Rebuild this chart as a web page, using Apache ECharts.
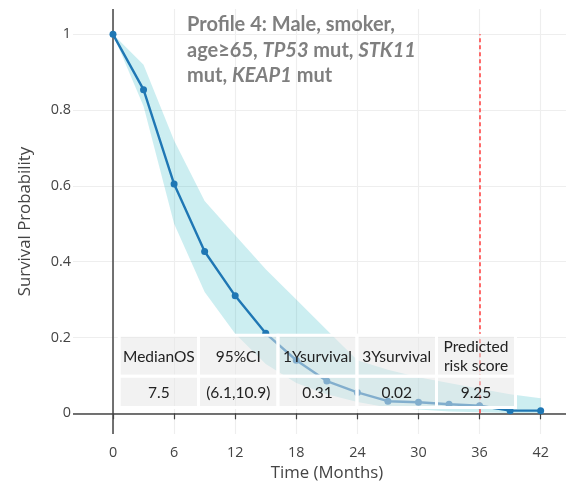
<!DOCTYPE html>
<html>
<head>
<meta charset="utf-8">
<script src="https://cdn.jsdelivr.net/npm/echarts@6/dist/echarts.min.js"></script>
<style>
  html, body { margin: 0; padding: 0; background: #ffffff; }
  #chart { width: 566px; height: 482px; }
</style>
</head>
<body>
<div id="chart"></div>
<script>
// Predicted survival curve with 95% confidence band (months 0-42, every 3 months)
const months = [0, 3, 6, 9, 12, 15, 18, 21, 24, 27, 30, 33, 36, 39, 42];
const survival = [1, 0.854, 0.605, 0.427, 0.31, 0.211, 0.14, 0.085, 0.055, 0.032, 0.029, 0.024, 0.02, 0.007, 0.007];
const ciLower = [1, 0.81, 0.50, 0.32, 0.21, 0.13, 0.08, 0.05, 0.03, 0.015, 0.01, 0.005, 0.003, 0.001, 0.001];
const ciUpper = [1, 0.92, 0.72, 0.56, 0.47, 0.38, 0.30, 0.22, 0.14, 0.115, 0.095, 0.08, 0.065, 0.05, 0.04];

// Axis ticks
const xTicks = [0, 6, 12, 18, 24, 30, 36, 42];
const yTicks = [0, 0.2, 0.4, 0.6, 0.8, 1];

// Reference time marked by the red dashed line
const markTime = 36;

// Summary table
const tableHeader = ['MedianOS', '95%CI', '1Ysurvival', '3Ysurvival', 'Predicted\nrisk score'];
const tableValues = ['7.5', '(6.1,10.9)', '0.31', '0.02', '9.25'];

const chart = echarts.init(document.getElementById('chart'), null, { renderer: 'canvas' });

const bandData = months.map((m, i) => [m, ciLower[i], ciUpper[i]]);
const survPts = months.map((m, i) => [m, survival[i]]);

// Confidence band: one polygon, upper edge left-to-right then lower edge back
function renderBand(params, api) {
  if (params.dataIndex !== 0) return;
  const pts = [];
  for (let i = 0; i < bandData.length; i++) pts.push(api.coord([bandData[i][0], bandData[i][2]]));
  for (let i = bandData.length - 1; i >= 0; i--) pts.push(api.coord([bandData[i][0], bandData[i][1]]));
  return {
    type: 'polygon',
    shape: { points: pts },
    style: { fill: 'rgba(0,170,187,0.2)', stroke: 'none' },
    silent: true
  };
}

// Table layout (pixels)
const colEdges = [119.2, 198.5, 278, 357, 436.5, 515.5];
const rowEdges = [335.2, 376.3, 407.5];
const cellFill = 'rgba(229,229,229,0.5)';
const tableFont = 'Lato';

const tableGraphics = [];
[tableHeader, tableValues].forEach((row, r) => {
  row.forEach((txt, c) => {
    const x0 = colEdges[c], x1 = colEdges[c + 1];
    const y0 = rowEdges[r], y1 = rowEdges[r + 1];
    tableGraphics.push({
      type: 'rect', z: 100, silent: true,
      shape: { x: x0, y: y0, width: x1 - x0, height: y1 - y0 },
      style: { fill: cellFill, stroke: '#ffffff', lineWidth: 3 }
    });
    tableGraphics.push({
      type: 'text', z: 101, silent: true,
      x: (x0 + x1) / 2, y: (y0 + y1) / 2 + 1,
      style: {
        text: txt, fill: '#222222', fontFamily: tableFont, fontSize: 15.5,
        lineHeight: 19, align: 'center', verticalAlign: 'middle'
      }
    });
  });
});

const titleRich = {
  b: { fontFamily: 'Lato', fontSize: 20, fontWeight: 'bold', color: '#7f7f7f', lineHeight: 25.5 },
  i: { fontFamily: 'Lato', fontSize: 20, fontWeight: 'bold', fontStyle: 'italic', color: '#7f7f7f', lineHeight: 25.5 }
};

const axisFont = 'Open Sans';

chart.setOption({
  backgroundColor: '#ffffff',
  animation: false,
  title: {
    left: 187, top: 12, padding: 0,
    text: '{b|Profile 4: Male, smoker,}\n{b|age≥65, }{i|TP53}{b| mut, }{i|STK11}\n{b|mut, }{i|KEAP1}{b| mut}',
    textStyle: { rich: titleRich }
  },
  grid: { left: 73, top: 9, width: 508, height: 425, containLabel: false, outerBoundsMode: 'none' },
  xAxis: {
    type: 'value',
    min: -3.928, max: 45.96,
    position: 'bottom', offset: 4,
    axisLine: { show: false },
    axisTick: { show: true, inside: false, length: 6, lineStyle: { color: '#444', width: 1.2 }, customValues: xTicks },
    axisLabel: { customValues: xTicks, color: '#444', fontFamily: axisFont, fontSize: 14.4, margin: 8 },
    splitLine: { show: true, lineStyle: { color: '#eeeeee', width: 1.2 } },
    name: 'Time (Months)', nameLocation: 'middle', nameGap: 27,
    nameTextStyle: { color: '#444', fontFamily: axisFont, fontSize: 16.8 }
  },
  yAxis: {
    type: 'value',
    min: -0.0546, max: 1.0668,
    axisLine: { show: false },
    axisTick: { show: false, customValues: yTicks },
    axisLabel: { customValues: yTicks, color: '#444', fontFamily: axisFont, fontSize: 14.4, margin: 2 },
    splitLine: { show: true, lineStyle: { color: '#eeeeee', width: 1.2 } },
    name: 'Survival Probability', nameLocation: 'middle', nameGap: 39, nameRotate: 90,
    nameTextStyle: { color: '#444', fontFamily: axisFont, fontSize: 16.8 }
  },
  series: [
    {
      name: '95% CI', type: 'custom', data: bandData, z: 1,
      renderItem: renderBand, silent: true
    },
    {
      // zero lines of both axes
      name: 'zero lines', type: 'line', data: survPts, z: 2,
      symbol: 'none', silent: true, lineStyle: { opacity: 0 },
      markLine: {
        silent: true, symbol: 'none', label: { show: false }, animation: false,
        lineStyle: { color: '#444', width: 1.5, type: 'solid' },
        data: [{ xAxis: 0 }, { yAxis: 0 }]
      }
    },
    {
      // reference time line
      name: 'reference time', type: 'line', data: survPts, z: 2,
      symbol: 'none', silent: true, lineStyle: { opacity: 0 },
      markLine: {
        silent: true, symbol: 'none', label: { show: false }, animation: false,
        lineStyle: { color: '#ff3b3b', width: 1.5, type: [4, 3], opacity: 1 },
        data: [[{ coord: [markTime, 0] }, { coord: [markTime, 1] }]]
      }
    },
    {
      name: 'Survival', type: 'line', data: survPts, z: 6,
      symbol: 'circle', symbolSize: 7, showAllSymbol: true,
      itemStyle: { color: '#1f77b4' },
      lineStyle: { color: '#1f77b4', width: 2.4 }
    }
  ],
  graphic: tableGraphics
});
</script>
</body>
</html>
